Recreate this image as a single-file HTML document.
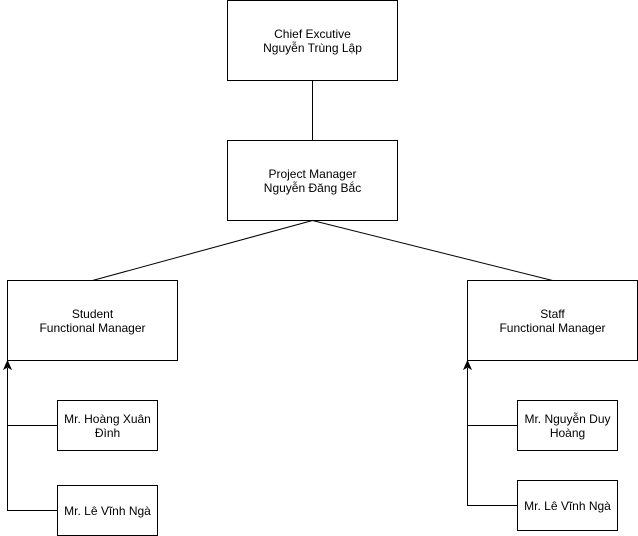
<!DOCTYPE html>
<html><head><meta charset="utf-8"><style>
html,body{margin:0;padding:0;background:#fff;width:638px;height:536px;overflow:hidden}
svg text{font-family:"Liberation Sans",Arial,sans-serif;font-size:12px;fill:#000}
</style></head><body>
<svg width="638" height="536" viewBox="0 0 638 536" xmlns="http://www.w3.org/2000/svg">
<g fill="#fff" stroke="#000" stroke-width="1">
<rect x="227.5" y="0.5" width="170" height="80"/>
<rect x="227.5" y="140.5" width="170" height="80"/>
<rect x="7.5" y="280.5" width="170" height="80"/>
<rect x="467.5" y="280.5" width="170" height="80"/>
<rect x="57.5" y="400.5" width="100" height="50"/>
<rect x="57.5" y="485.5" width="100" height="50"/>
<rect x="517.5" y="400.5" width="100" height="50"/>
<rect x="517.5" y="480.5" width="100" height="50"/>
</g>
<g fill="none" stroke="#000" stroke-width="1">
<line x1="312.5" y1="80.5" x2="312.5" y2="140.5"/>
<line x1="312.5" y1="220.5" x2="92.5" y2="280.5"/>
<line x1="312.5" y1="220.5" x2="552.5" y2="280.5"/>
<polyline points="57.5,425.5 7.5,425.5 7.5,368"/>
<polyline points="57.5,510.5 7.5,510.5 7.5,425.5"/>
<polyline points="517.5,425.5 467.5,425.5 467.5,368"/>
<polyline points="517.5,505.5 467.5,505.5 467.5,425.5"/>
</g>
<polygon points="7.5,361 4,369 7.5,367 11,369" fill="#000" stroke="#000"/>
<polygon points="467.5,361 464,369 467.5,367 471,369" fill="#000" stroke="#000"/>
<g text-anchor="middle">
<text x="312.5" y="38">Chief Excutive</text>
<text x="312.5" y="52">Nguyễn Trùng Lập</text>
<text x="312.5" y="178">Project Manager</text>
<text x="312.5" y="192">Nguyễn Đăng Bắc</text>
<text x="92.5" y="318">Student</text>
<text x="92.5" y="332">Functional Manager</text>
<text x="552.5" y="318">Staff</text>
<text x="552.5" y="332">Functional Manager</text>
<text x="107.5" y="423">Mr. Hoàng Xuân</text>
<text x="107.5" y="437">Đình</text>
<text x="107.5" y="515">Mr. Lê Vĩnh Ngà</text>
<text x="567.5" y="423">Mr. Nguyễn Duy</text>
<text x="567.5" y="437">Hoàng</text>
<text x="567.5" y="510">Mr. Lê Vĩnh Ngà</text>
</g>
</svg>
</body></html>
